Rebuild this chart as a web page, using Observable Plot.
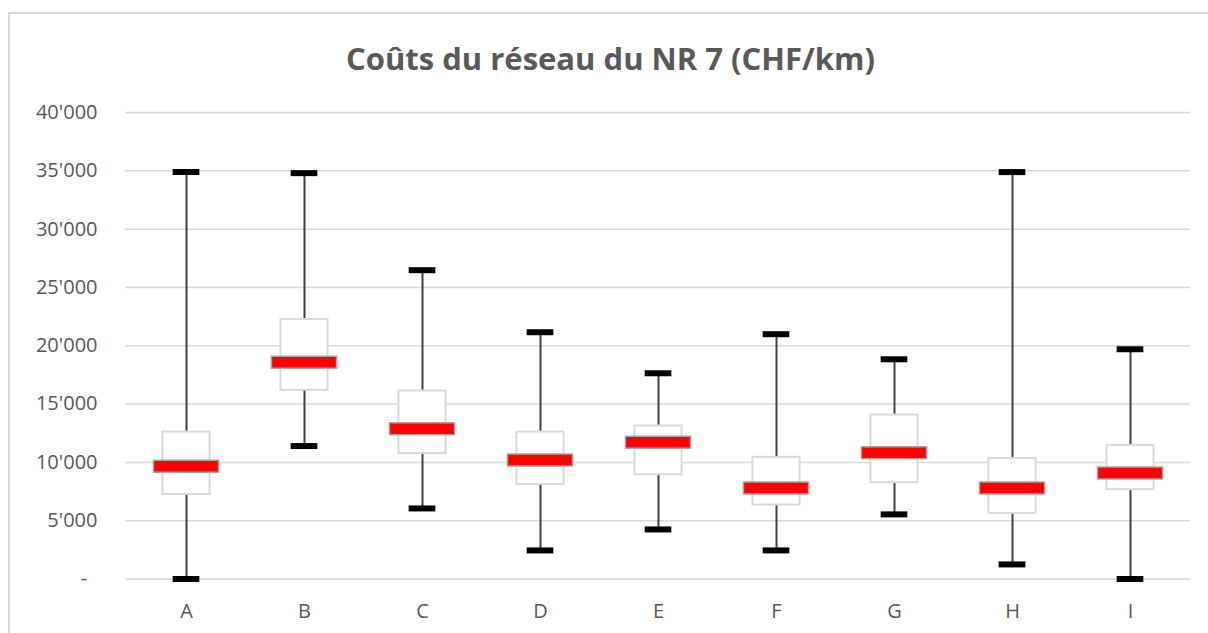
<!DOCTYPE html>
<html>
<head>
<meta charset="utf-8">
<script src="https://cdn.jsdelivr.net/npm/d3@7"></script>
<script src="https://cdn.jsdelivr.net/npm/@observablehq/plot@0.6"></script>
<style>
  html, body { margin: 0; padding: 0; background: #fff; overflow: hidden; }
  #wrap { position: relative; width: 1208px; height: 633px; overflow: hidden; }
  #frame { position: absolute; left: 8px; top: 12px; width: 1260px; height: 700px; border: 2px solid #d9d9d9; box-sizing: border-box; }
  #title { position: absolute; left: 0; width: 1221px; top: 40px; text-align: center;
           font-family: "Open Sans", sans-serif; font-weight: bold; font-size: 31px; color: #595959; line-height: 36px; }
  #chart { position: absolute; left: 0; top: 0; }
</style>
</head>
<body>
<div id="wrap">
  <div id="frame"></div>
  <div id="chart"></div>
  <div id="title">Coûts du réseau du NR 7 (CHF/km)</div>
</div>
<script>
const categories = ["A", "B", "C", "D", "E", "F", "G", "H", "I"];
const minValues    = [0,     11400, 6050,  2450,  4250,  2450,  5540,  1250,  0];
const q1Values     = [7250,  16180, 10750, 8110,  8940,  6340,  8260,  5620,  7660];
const medianValues = [9660,  18580, 12890, 10200, 11720, 7800,  10830, 7800,  9080];
const q3Values     = [12600, 22250, 16120, 12600, 13120, 10430, 14060, 10340, 11460];
const maxValues    = [34900, 34800, 26480, 21160, 17640, 20990, 18840, 34890, 19700];

const yTicks = [0, 5000, 10000, 15000, 20000, 25000, 30000, 35000, 40000];
const yTickLabels = ["-\u00a0\u00a0", "5'000", "10'000", "15'000", "20'000", "25'000", "30'000", "35'000", "40'000"];

const rows = categories.map((c, i) => ({
  cat: c, min: minValues[i], q1: q1Values[i], med: medianValues[i], q3: q3Values[i], max: maxValues[i]
}));

const W = 1208, H = 633;
const mL = 125, mR = 18, mT = 112, mB = 54.5;
const band = (W - mL - mR) / categories.length;
const ins = w => (band - w) / 2;

const chart = Plot.plot({
  width: W, height: H,
  marginLeft: mL, marginRight: mR, marginTop: mT, marginBottom: mB,
  style: { fontFamily: "Open Sans, sans-serif", fontSize: "20px", color: "#595959", background: "transparent" },
  x: { domain: categories, padding: 0, label: null },
  y: { domain: [0, 40000], label: null },
  marks: [
    Plot.ruleY(yTicks, { stroke: "#d9d9d9", strokeWidth: 1.5 }),
    Plot.axisY({ ticks: yTicks, tickFormat: d => yTickLabels[yTicks.indexOf(d)], tickSize: 0, tickPadding: 28, fontSize: 20, fill: "#595959" }),
    Plot.axisX({ tickSize: 0, tickPadding: 24.5, fontSize: 20, fill: "#595959" }),
    Plot.ruleX(rows, { x: "cat", y1: "min", y2: "max", stroke: "#404040", strokeWidth: 2 }),
    Plot.tickY(rows, { x: "cat", y: "min", stroke: "#000", strokeWidth: 6, insetLeft: ins(27), insetRight: ins(27) }),
    Plot.tickY(rows, { x: "cat", y: "max", stroke: "#000", strokeWidth: 6, insetLeft: ins(27), insetRight: ins(27) }),
    Plot.barY(rows, { x: "cat", y1: "q1", y2: "q3", fill: "#fff", stroke: "#d9d9d9", strokeWidth: 2, insetLeft: ins(47.5), insetRight: ins(47.5) }),
    Plot.tickY(rows, { x: "cat", y: "med", stroke: "#a6a6a6", strokeWidth: 13.5, insetLeft: ins(67), insetRight: ins(67) }),
    Plot.tickY(rows, { x: "cat", y: "med", stroke: "#ff0000", strokeWidth: 10.5, insetLeft: ins(64), insetRight: ins(64) })
  ]
});
document.getElementById("chart").appendChild(chart);
</script>
</body>
</html>
